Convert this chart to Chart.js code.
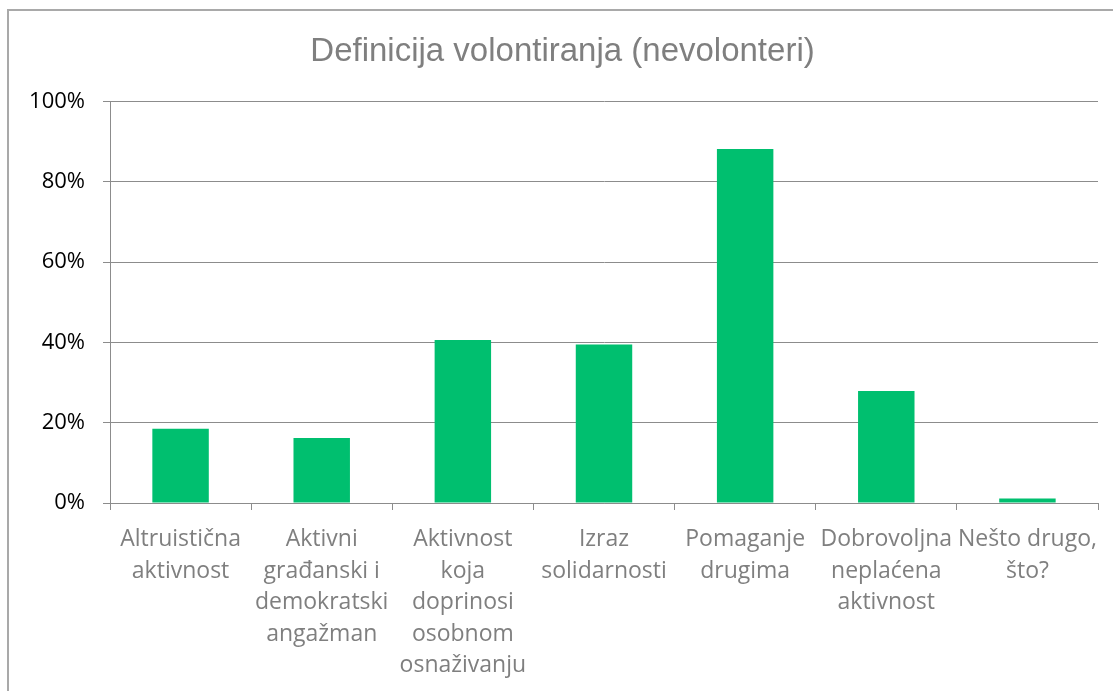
<!DOCTYPE html>
<html>
<head>
<meta charset="utf-8">
<title>Definicija volontiranja (nevolonteri)</title>
<script src="https://cdn.jsdelivr.net/npm/chart.js@4/dist/chart.umd.min.js"></script>
<style>
  html, body { margin: 0; padding: 0; background: #fff; overflow: hidden; }
  #wrap { position: relative; width: 1113px; height: 691px; }
  #frame { position: absolute; left: 7px; top: 9px; width: 1200px; height: 800px; border: 2px solid #a9a9a9; }
  #chart { position: absolute; left: 0; top: 0; }
</style>
</head>
<body>
<div id="wrap">
  <div id="frame"></div>
  <canvas id="chart" width="1113" height="691"></canvas>
</div>
<script>
// categories (wrapped the same way as in the picture)
const categories = [
    ['Altruistična', 'aktivnost'],
    ['Aktivni', 'građanski i', 'demokratski', 'angažman'],
    ['Aktivnost', 'koja', 'doprinosi', 'osobnom', 'osnaživanju'],
    ['Izraz', 'solidarnosti'],
    ['Pomaganje', 'drugima'],
    ['Dobrovoljna', 'neplaćena', 'aktivnost'],
    ['Nešto drugo,', 'što?']
];

// share of respondents, percent
const values = [18.5, 16.2, 40.6, 39.5, 88.2, 27.9, 1.1];

const yTicks = [0, 20, 40, 60, 80, 100];

const gridColor = '#8c8c8c';

const ctx = document.getElementById('chart').getContext('2d');
new Chart(ctx, {
    type: 'bar',
    data: {
        labels: categories,
        datasets: [{
            data: values,
            backgroundColor: '#00bf6f',
            borderWidth: 0,
            categoryPercentage: 1,
            barPercentage: 0.4
        }]
    },
    options: {
        responsive: false,
        animation: false,
        layout: {
            padding: { left: 27, right: 15, top: 0, bottom: 0 }
        },
        plugins: {
            legend: { display: false },
            tooltip: { enabled: false },
            title: {
                display: true,
                text: 'Definicija volontiranja (nevolonteri)',
                color: '#7f7f7f',
                font: { family: 'Liberation Sans', size: 33, weight: 'normal', lineHeight: 1.2 },
                padding: { top: 32, bottom: 30 }
            }
        },
        scales: {
            x: {
                grid: {
                    offset: true,
                    drawOnChartArea: false,
                    drawTicks: true,
                    tickLength: 7,
                    color: gridColor
                },
                border: { display: true, color: gridColor },
                ticks: {
                    color: '#7f7f7f',
                    padding: 14,
                    maxRotation: 0,
                    autoSkip: false,
                    font: { family: 'Open Sans', size: 23, lineHeight: 1.37 }
                },
                afterFit: (scale) => { scale.height = 188; }
            },
            y: {
                min: 0,
                max: 100,
                afterBuildTicks: (scale) => {
                    scale.ticks = yTicks.map(v => ({ value: v }));
                },
                grid: {
                    color: gridColor,
                    drawTicks: true,
                    tickLength: 7
                },
                border: { display: true, color: gridColor },
                ticks: {
                    color: '#000000',
                    padding: 18,
                    font: { family: 'Open Sans', size: 22 },
                    callback: (v) => v + '%'
                },
                afterFit: (scale) => { scale.width = 83; }
            }
        }
    }
});
</script>
</body>
</html>
